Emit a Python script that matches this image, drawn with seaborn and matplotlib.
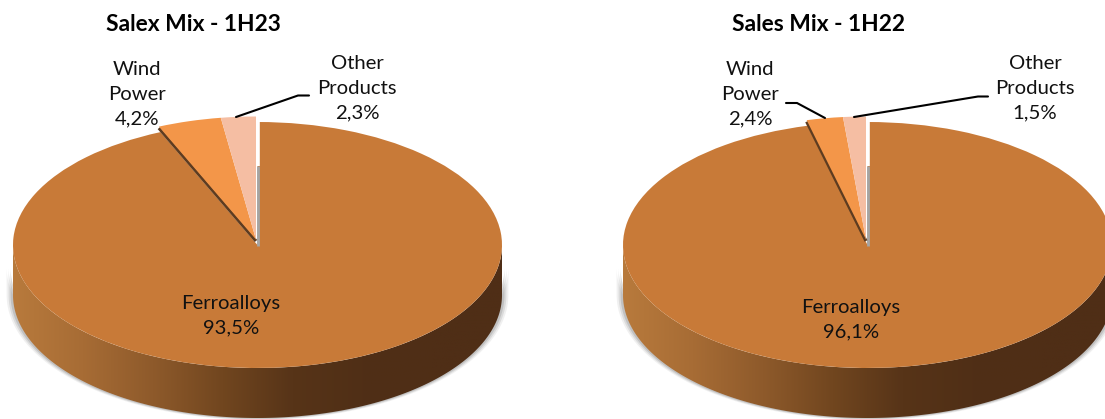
import numpy as np
import matplotlib
matplotlib.use("Agg")
import matplotlib.pyplot as plt
from matplotlib.patches import Polygon
import seaborn as sns

# Sales mix shares, in percent
categories = ["Ferroalloys", "Wind\nPower", "Other\nProducts"]
values_1h23 = [93.5, 4.2, 2.3]
values_1h22 = [96.1, 2.4, 1.5]
titles = ["Salex Mix - 1H23", "Sales Mix - 1H22"]

W, H = 1105, 419
RX, RY, DEPTH = 244.5, 123.0, 50.0
COLORS = ["#C87A38", "#F39649", "#F5BEA3"]
FONT = "Lato"

sns.set_theme(style="white")
plt.rcParams["font.family"] = FONT
fig = plt.figure(figsize=(W / 100, H / 100), dpi=100, facecolor="white")


def px(x, y):
    """Pixel position (origin top left) to figure fraction."""
    return x / W, 1 - y / H


def put(x, y, s, **kw):
    fx, fy = px(x, y)
    kw.setdefault("color", "#111111")
    kw.setdefault("fontsize", 14.6)
    kw.setdefault("ha", "center")
    kw.setdefault("va", "center")
    fig.text(fx, fy, s, **kw)


def leader(points):
    xs, ys = zip(*[px(*p) for p in points])
    fig.add_artist(plt.Line2D(xs, ys, color="black", lw=1.5, solid_joinstyle="miter"))


def pie3d(cx, cy, values):
    # Axes whose data units are pie radii, stretched so the circle becomes the ellipse
    xlim = (-1.1, 1.1)
    ylim = (-1.0 - 2 * DEPTH / RY, 1.12)
    left, right = cx + xlim[0] * RX, cx + xlim[1] * RX
    top, bottom = cy - ylim[1] * RY, cy - ylim[0] * RY
    ax = fig.add_axes([left / W, 1 - bottom / H, (right - left) / W, (bottom - top) / H])

    wedges, _ = ax.pie(values, colors=COLORS, startangle=90, counterclock=False,
                       radius=1.0, wedgeprops=dict(linewidth=0))
    ax.set_aspect("auto")
    ax.set_xlim(*xlim)
    ax.set_ylim(*ylim)
    ax.axis("off")

    # Rim of the disc: lower half of the ellipse extruded downward
    d = DEPTH / RY
    t = np.linspace(np.pi, 2 * np.pi, 240)
    ex, ey = np.cos(t), np.sin(t)
    rim_xy = np.r_[np.c_[ex, ey], np.c_[ex[::-1], ey[::-1] - d]]

    # Soft grey shadow hugging the rim
    for grow, a in zip([0.026, 0.018, 0.010], [0.10, 0.16, 0.24]):
        gx = np.cos(t) * (1 + grow)
        gy = np.sin(t) * (1 + grow * 0.6) - d
        shadow = np.r_[np.c_[np.cos(t) * (1 + grow), np.sin(t) - d * 0.45], np.c_[gx[::-1], gy[::-1]]]
        ax.add_patch(Polygon(shadow, closed=True, fc="#707070", ec="none", alpha=a, zorder=0.2))

    rim = Polygon(rim_xy, closed=True, fc="none", ec="none", zorder=0.5)
    ax.add_patch(rim)
    ramp = sns.blend_palette(["#B87A3C", "#A76C35", "#8E5A2B", "#71461F", "#573418",
                              "#502F16", "#4F2E16", "#4F2E16"], n_colors=256)
    img = ax.imshow(np.array(ramp)[None, :, :], extent=(-1, 1, -1 - d, 0),
                    aspect="auto", zorder=0.5, interpolation="bilinear")
    img.set_clip_path(rim)
    ax.set_xlim(*xlim)
    ax.set_ylim(*ylim)

    for w in wedges:
        w.set_zorder(1)

    # Small slices are pulled slightly up and left of the disc
    shift = (-1.5 / RX, 5.5 / RY)
    for w in wedges[1:]:
        w.set_center(shift)
        w.set_zorder(2)

    # Exposed cut faces of the pulled slices
    a_wind = np.deg2rad(360 * (values[1] + values[2]) / sum(values))
    ax.plot([shift[0], shift[0] - np.sin(a_wind)], [shift[1] - 0.012, shift[1] + np.cos(a_wind) - 0.012],
            color="#5E3C20", lw=2.3, solid_capstyle="butt", zorder=1.8)
    ax.plot([0.001, 0.001], [-0.005, 0.64], color="#A5A5A5", lw=2.0, solid_capstyle="butt", zorder=1.7)
    # White gap between the pulled slice and the main slice
    ax.plot([0.001, 0.001], [0.64, 1.06], color="white", lw=2.6, solid_capstyle="butt", zorder=1.5)
    return ax


def pct(v):
    return f"{v:.1f}".replace(".", ",") + "%"


# Left pie
pie3d(257.5, 245, values_1h23)
put(193.5, 24.5, titles[0], fontsize=16.4, fontweight="bold", color="black")
put(231, 316, f"{categories[0]}\n{pct(values_1h23[0])}", linespacing=1.55)
put(137, 94.5, f"{categories[1]}\n{pct(values_1h23[1])}", linespacing=1.55)
put(357, 88, f"{categories[2]}\n{pct(values_1h23[2])}", linespacing=1.55)
leader([(236, 117), (298, 95.5), (309, 95.5)])

# Right pie
pie3d(867.5, 245, values_1h22)
put(818.5, 24.5, titles[1], fontsize=16.4, fontweight="bold", color="black")
put(851, 320, f"{categories[0]}\n{pct(values_1h22[0])}", linespacing=1.55)
put(750, 94.5, f"{categories[1]}\n{pct(values_1h22[1])}", linespacing=1.55)
put(1035, 88, f"{categories[2]}\n{pct(values_1h22[2])}", linespacing=1.55)
leader([(786, 103), (797, 103), (825, 118)])
leader([(854, 117), (978, 96.5), (988, 96.5)])

fig.savefig("out.png", dpi=100, facecolor="white")
